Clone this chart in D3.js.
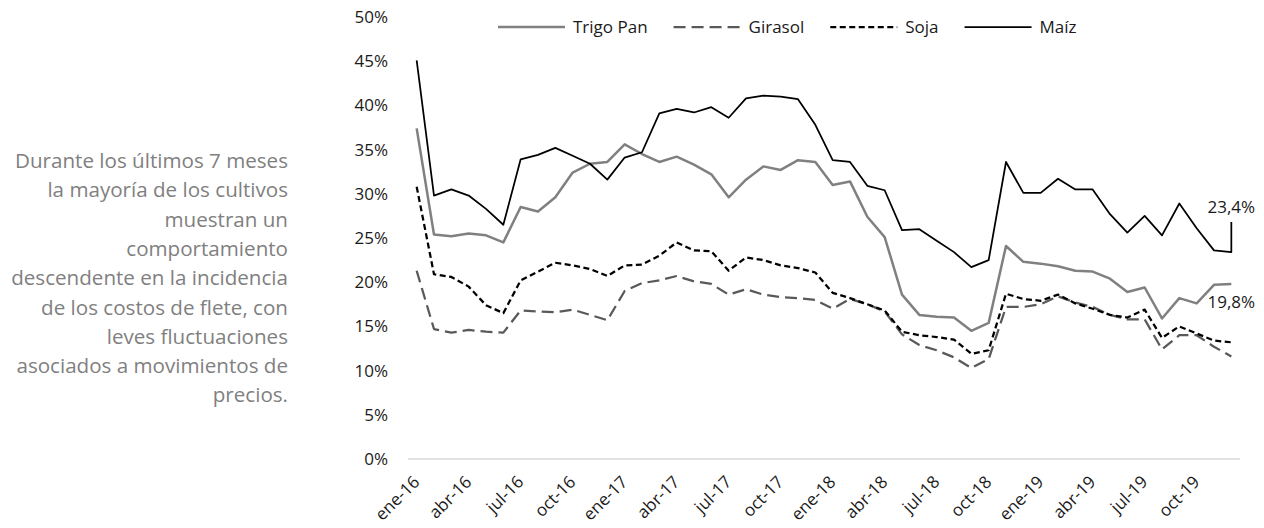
<!DOCTYPE html>
<html>
<head>
<meta charset="utf-8">
<script src="https://cdn.jsdelivr.net/npm/d3@7"></script>
<style>
  body { margin: 0; background: #fff; }
  svg { display: block; font-family: "Open Sans", sans-serif; }
</style>
</head>
<body>
<div class="chart"></div>
<script>
// Meses (categorias del eje x)
var mesesNombres = ["ene","feb","mar","abr","may","jun","jul","ago","sep","oct","nov","dic"];
var anios = ["16","17","18","19"];
var meses = [];
anios.forEach(function (a) {
    mesesNombres.forEach(function (m) { meses.push(m + "-" + a); });
});

// Series (% de incidencia del flete)
var trigoPan = [37.4,25.4,25.2,25.5,25.3,24.5,28.5,28.0,29.6,32.4,33.4,33.6,
                35.6,34.5,33.6,34.2,33.3,32.2,29.6,31.6,33.1,32.7,33.8,33.6,
                31.0,31.4,27.4,25.1,18.6,16.3,16.1,16.0,14.5,15.4,24.1,22.3,
                22.1,21.8,21.3,21.2,20.4,18.9,19.4,15.9,18.2,17.6,19.7,19.8];
var girasol = [21.3,14.7,14.3,14.6,14.4,14.3,16.8,16.7,16.6,16.9,16.3,15.7,
               19.0,19.9,20.2,20.7,20.1,19.8,18.6,19.2,18.6,18.3,18.2,18.0,
               17.0,18.1,17.5,16.7,14.1,12.9,12.3,11.5,10.3,11.3,17.2,17.2,
               17.5,18.4,17.7,17.2,16.3,15.8,15.8,12.4,14.0,14.0,12.7,11.6];
var soja = [30.8,20.9,20.6,19.5,17.4,16.5,20.2,21.2,22.2,21.9,21.5,20.7,
            21.9,22.0,23.0,24.5,23.6,23.5,21.3,22.8,22.5,21.9,21.6,21.1,
            18.8,18.2,17.5,16.8,14.4,14.0,13.8,13.5,11.9,12.3,18.7,18.1,
            17.9,18.6,17.6,17.0,16.3,16.0,16.9,13.7,15.0,14.2,13.4,13.2];
var maiz = [45.1,29.8,30.5,29.8,28.3,26.5,33.9,34.4,35.2,34.3,33.4,31.6,
            34.1,34.7,39.1,39.6,39.2,39.8,38.6,40.8,41.1,41.0,40.7,37.8,
            33.8,33.6,30.9,30.4,25.9,26.0,24.7,23.4,21.7,22.5,33.6,30.1,
            30.1,31.7,30.5,30.5,27.7,25.6,27.5,25.3,28.9,26.1,23.6,23.4];
// ultimo registro de Maiz cae en el mismo mes (dic-19)
var maizCierre = 26.8;

var yTicks = [0,5,10,15,20,25,30,35,40,45,50];

var texto = ["Durante los últimos 7 meses",
             "la mayoría de los cultivos",
             "muestran un",
             "comportamiento",
             "descendente en la incidencia",
             "de los costos de flete, con",
             "leves fluctuaciones",
             "asociados a movimientos de",
             "precios."];

var series = [
    {name: "Trigo Pan", values: trigoPan, color: "#808080", width: 2.5, dash: null},
    {name: "Girasol", values: girasol, color: "#595959", width: 2.25, dash: "12,6"},
    {name: "Soja", values: soja, color: "#000000", width: 2.25, dash: "6,3.5"},
    {name: "Maíz", values: maiz, color: "#000000", width: 1.75, dash: null}
];

var svgWidth = 1264, svgHeight = 528;
var margin = {top: 17, right: 24, bottom: 69, left: 408};
var width = svgWidth - margin.left - margin.right;
var height = svgHeight - margin.top - margin.bottom;

var svg = d3.select(".chart")
    .append("svg")
    .attr("width", svgWidth)
    .attr("height", svgHeight);

var chartGroup = svg.append("g")
    .attr("transform", `translate(${margin.left}, ${margin.top})`);

var xScale = d3.scaleBand()
    .domain(meses)
    .range([0, width]);
var xc = function (m) { return xScale(m) + xScale.bandwidth() / 2; };

var yScale = d3.scaleLinear()
    .domain([0, 50])
    .range([height, 0]);

// Eje y
var leftAxis = d3.axisLeft(yScale)
    .tickValues(yTicks)
    .tickSize(0)
    .tickPadding(20)
    .tickFormat(d => d + "%");
var yAxisG = chartGroup.append("g").call(leftAxis);
yAxisG.select(".domain").remove();
yAxisG.selectAll("text")
    .style("font-size", "17px")
    .style("font-family", "Open Sans")
    .attr("fill", "#1a1a1a");

// Eje x (linea base y etiquetas trimestrales)
chartGroup.append("line")
    .attr("x1", 0).attr("x2", width)
    .attr("y1", yScale(0)).attr("y2", yScale(0))
    .attr("stroke", "#d9d9d9")
    .attr("stroke-width", 1.5);

var xLabels = meses.filter((m, i) => i % 3 === 0);
chartGroup.selectAll(".xlab")
    .data(xLabels)
    .enter()
    .append("text")
    .attr("class", "xlab")
    .attr("transform", d => `translate(${xc(d) + 4}, ${yScale(0) + 24}) rotate(-45)`)
    .attr("text-anchor", "end")
    .style("font-size", "17px")
    .attr("fill", "#1a1a1a")
    .text(d => d);

// Lineas
var line = d3.line()
    .x(d => xc(d.m))
    .y(d => yScale(d.v));

series.forEach(function (s) {
    var pts = s.values.map((v, i) => ({m: meses[i], v: v}));
    if (s.name === "Maíz") pts.push({m: meses[meses.length - 1], v: maizCierre});
    chartGroup.append("path")
        .datum(pts)
        .attr("fill", "none")
        .attr("stroke", s.color)
        .attr("stroke-width", s.width)
        .attr("stroke-dasharray", s.dash)
        .attr("stroke-linejoin", "round")
        .attr("d", line);
});

// Etiquetas de datos
var fmt = d3.formatLocale({decimal: ",", thousands: ".", grouping: [3], currency: ["$", ""]}).format(".1f");
var ultimo = meses[meses.length - 1];
chartGroup.append("text")
    .attr("x", xc(ultimo))
    .attr("y", yScale(maizCierre) - 9)
    .attr("text-anchor", "middle")
    .style("font-size", "17px")
    .attr("fill", "#1a1a1a")
    .text(fmt(maiz[maiz.length - 1]) + "%");
chartGroup.append("text")
    .attr("x", xc(ultimo))
    .attr("y", yScale(trigoPan[trigoPan.length - 1]) + 24)
    .attr("text-anchor", "middle")
    .style("font-size", "17px")
    .attr("fill", "#1a1a1a")
    .text(fmt(trigoPan[trigoPan.length - 1]) + "%");

// Leyenda
var legend = svg.append("g").attr("transform", "translate(498, 27)");
var lx = 0;
series.forEach(function (s) {
    var g = legend.append("g").attr("transform", `translate(${lx}, 0)`);
    g.append("line")
        .attr("x1", 0).attr("x2", 67)
        .attr("stroke", s.color)
        .attr("stroke-width", s.width)
        .attr("stroke-dasharray", s.dash);
    var t = g.append("text")
        .attr("x", 75)
        .attr("y", 6)
        .style("font-size", "17px")
        .attr("fill", "#1a1a1a")
        .text(s.name);
    lx += 75 + t.node().getComputedTextLength() + 26;
});

// Texto descriptivo
svg.append("text")
    .attr("text-anchor", "end")
    .attr("fill", "#808080")
    .style("font-size", "20.6px")
    .selectAll("tspan")
    .data(texto)
    .enter()
    .append("tspan")
    .attr("x", 288)
    .attr("y", (d, i) => 168 + i * 29.3)
    .text(d => d);
</script>
</body>
</html>
